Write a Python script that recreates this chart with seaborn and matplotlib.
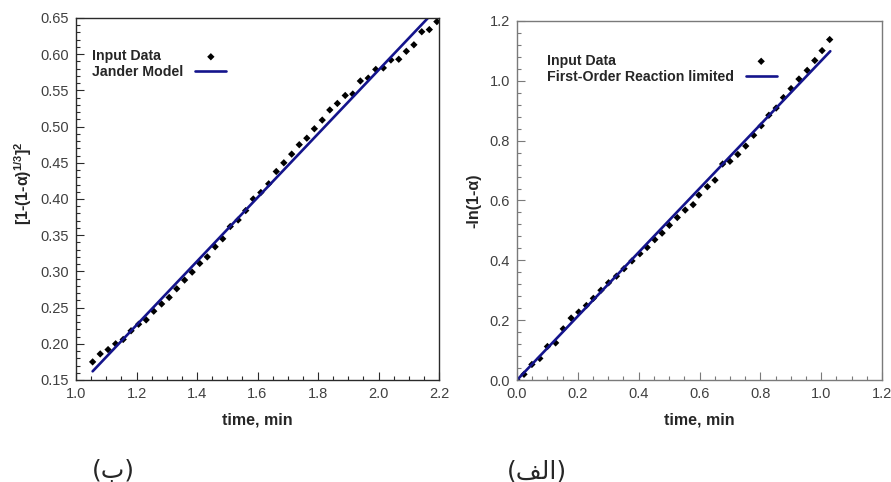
import numpy as np
import pandas as pd
import matplotlib
matplotlib.use("Agg")
import matplotlib.pyplot as plt
import seaborn as sns
from matplotlib.ticker import MultipleLocator

# left panel (ب): Jander model
jander_t = [1.055, 1.080, 1.106, 1.131, 1.156, 1.182, 1.207, 1.232, 1.257, 1.283,
            1.308, 1.333, 1.359, 1.384, 1.409, 1.434, 1.460, 1.485, 1.510, 1.536,
            1.561, 1.586, 1.611, 1.637, 1.662, 1.687, 1.713, 1.738, 1.763, 1.788,
            1.814, 1.839, 1.864, 1.890, 1.915, 1.940, 1.966, 1.991, 2.016, 2.041,
            2.067, 2.092, 2.117, 2.143, 2.168, 2.193]
jander_y = [0.175, 0.186, 0.192, 0.200, 0.206, 0.218, 0.227, 0.233, 0.245, 0.255,
            0.264, 0.276, 0.288, 0.299, 0.311, 0.320, 0.334, 0.345, 0.362, 0.371,
            0.384, 0.400, 0.409, 0.421, 0.438, 0.450, 0.462, 0.475, 0.484, 0.497,
            0.509, 0.523, 0.532, 0.543, 0.545, 0.563, 0.567, 0.579, 0.581, 0.592,
            0.593, 0.604, 0.613, 0.631, 0.634, 0.645]
jander_fit_t = [1.055, 2.193]
jander_fit_y = [0.162, 0.663]

# right panel (الف): first-order reaction
first_t = [0.000, 0.023, 0.049, 0.075, 0.100, 0.127, 0.152, 0.178, 0.203, 0.228,
           0.251, 0.276, 0.301, 0.327, 0.352, 0.378, 0.404, 0.428, 0.453, 0.477,
           0.501, 0.527, 0.553, 0.579, 0.598, 0.626, 0.651, 0.676, 0.700, 0.726,
           0.752, 0.778, 0.803, 0.828, 0.852, 0.876, 0.901, 0.927, 0.954, 0.979,
           1.003, 1.028]
first_y = [0.000, 0.019, 0.052, 0.072, 0.112, 0.124, 0.171, 0.207, 0.227, 0.249,
           0.273, 0.300, 0.325, 0.347, 0.372, 0.398, 0.422, 0.443, 0.469, 0.491,
           0.517, 0.543, 0.568, 0.586, 0.618, 0.646, 0.668, 0.722, 0.731, 0.754,
           0.782, 0.818, 0.850, 0.885, 0.909, 0.944, 0.974, 1.006, 1.035, 1.068,
           1.101, 1.138]
first_fit_t = [0.0, 1.03]
first_fit_y = [0.0, 1.099]

sns.set_style("white")
plt.rcParams['font.family'] = ['Liberation Sans', 'DejaVu Sans']
plt.rcParams['mathtext.fontset'] = 'custom'
plt.rcParams['mathtext.rm'] = 'Liberation Sans:bold'
plt.rcParams['mathtext.it'] = 'Liberation Sans:bold'
plt.rcParams['mathtext.bf'] = 'Liberation Sans:bold'

LINE = '#14148c'

fig = plt.figure(figsize=(8.91, 4.82), dpi=100)
ax1 = fig.add_axes([76 / 891, 1 - 380 / 482, 363 / 891, 362 / 482])
ax2 = fig.add_axes([517 / 891, 1 - 380 / 482, 365 / 891, 359 / 482])


def style_axis(ax, spine_col):
    for s in ax.spines.values():
        s.set_visible(True)
        s.set_color(spine_col)
        s.set_linewidth(1.0)
    ax.tick_params(which='major', direction='in', length=6, width=0.8,
                   color=spine_col, labelsize=10.5, labelcolor='#404040', pad=5)
    ax.tick_params(which='minor', direction='in', length=3, width=0.8,
                   color=spine_col)
    ax.tick_params(axis='both', which='both', top=False, right=False,
                   bottom=True, left=True)


def align_legend(leg):
    # text left aligned, symbols right aligned
    r = fig.canvas.get_renderer()
    widths = [t.get_window_extent(r).width for t in leg.get_texts()]
    wmax = max(widths)
    rows = [row for col in leg._legend_handle_box.get_children()
            for row in col.get_children()]
    for row, w in zip(rows, widths):
        row.sep += (wmax - w) * 72 / fig.dpi


# ---- left panel
sns.scatterplot(x=jander_t, y=jander_y, ax=ax1, marker='D', s=14,
                color='black', edgecolor='none', label='Input Data')
sns.lineplot(x=jander_fit_t, y=jander_fit_y, ax=ax1, color=LINE,
             linewidth=1.9, label='Jander Model')
ax1.set_xlim(1.0, 2.2)
ax1.set_ylim(0.15, 0.65)
ax1.xaxis.set_major_locator(MultipleLocator(0.2))
ax1.xaxis.set_minor_locator(MultipleLocator(0.05))
ax1.yaxis.set_major_locator(MultipleLocator(0.05))
ax1.yaxis.set_minor_locator(MultipleLocator(0.01))
ax1.xaxis.set_major_formatter(matplotlib.ticker.FormatStrFormatter('%.1f'))
ax1.yaxis.set_major_formatter(matplotlib.ticker.FormatStrFormatter('%.2f'))
style_axis(ax1, '#2a2a2a')
ax1.set_xlabel('time, min', fontsize=11.5, fontweight='bold', labelpad=8)
ax1.set_ylabel(r'[1-(1-α)$^{1/3}$]$^2$', fontsize=11.5, fontweight='bold')
ax1.yaxis.set_label_coords(-0.116, 0.544)

# ---- right panel
sns.scatterplot(x=first_t, y=first_y, ax=ax2, marker='D', s=14,
                color='black', edgecolor='none', label='Input Data')
sns.lineplot(x=first_fit_t, y=first_fit_y, ax=ax2, color=LINE,
             linewidth=1.9, label='First-Order Reaction limited')
ax2.set_xlim(0.0, 1.2)
ax2.set_ylim(0.0, 1.2)
ax2.xaxis.set_major_locator(MultipleLocator(0.2))
ax2.xaxis.set_minor_locator(MultipleLocator(0.05))
ax2.yaxis.set_major_locator(MultipleLocator(0.2))
ax2.yaxis.set_minor_locator(MultipleLocator(0.04))
ax2.xaxis.set_major_formatter(matplotlib.ticker.FormatStrFormatter('%.1f'))
ax2.yaxis.set_major_formatter(matplotlib.ticker.FormatStrFormatter('%.1f'))
style_axis(ax2, '#7a7a7a')
ax2.set_xlabel('time, min', fontsize=11.5, fontweight='bold', labelpad=8)
ax2.set_ylabel('-ln(1-α)', fontsize=11.5, fontweight='bold')
ax2.yaxis.set_label_coords(-0.098, 0.5)

legends = []
for ax, (bx, by) in [(ax1, (0.044, 0.913)), (ax2, (0.081, 0.908))]:
    h, l = ax.get_legend_handles_labels()
    leg = ax.legend(h, l, loc='upper left', bbox_to_anchor=(bx, by),
                    markerfirst=False, frameon=False, borderaxespad=0,
                    borderpad=0, handlelength=2.2, handletextpad=0.85,
                    labelspacing=0.12, prop={'weight': 'bold', 'size': 10.2})
    legends.append(leg)

fig.canvas.draw()
for leg in legends:
    align_legend(leg)

# panel captions (Persian, pre-shaped for display)
fig.text(113 / 891, 1 - 471 / 482, '(ب)', ha='center', va='center',
         fontsize=18, family=['DejaVu Sans'])
fig.text(537 / 891, 1 - 471 / 482, '(\ufed2\ufedf\ufe8d)', ha='center',
         va='center', fontsize=18, family=['DejaVu Sans'])

fig.savefig('out.png', dpi=100)
